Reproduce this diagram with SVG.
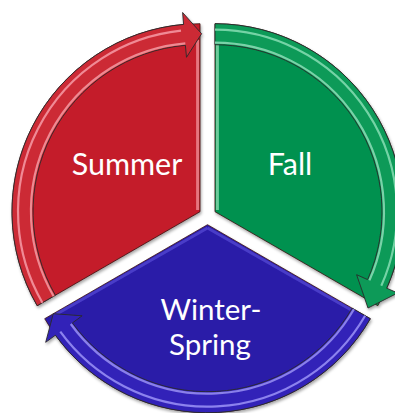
<svg xmlns="http://www.w3.org/2000/svg" width="395" height="413" viewBox="0 0 395 413">
<defs>
<filter id="sh" x="-10%" y="-10%" width="120%" height="120%">
<feDropShadow dx="1" dy="2" stdDeviation="1.8" flood-color="#000" flood-opacity="0.35"/>
</filter>
<style>
.lbl{font-family:Lato,"Open Sans","Liberation Sans",sans-serif;font-size:30.5px;font-weight:400;fill:#fff;text-anchor:middle}
.ws{font-size:29.5px}
.body{stroke:#3a1010;stroke-width:0.8;stroke-linejoin:round}
.band{stroke:#2a2a2a;stroke-width:0.9;stroke-linejoin:miter}
.stripe{fill:none;stroke-width:2.2;stroke-linecap:butt}
.edge{fill:none;stroke-width:3}
</style>
</defs>
<rect width="395" height="413" fill="#fff"/>
<g id="summer">
<g filter="url(#sh)">
<path class="body" d="M200,211.7 L37.2,305.7 A188,188 0 0 1 200,23.7 Z" fill="#C41E2A"/>
<path class="edge" d="M197.6,40 L197.6,210" stroke="#E67680"/>
<path class="band" d="M37.2,305.7 A188,188 0 0 1 183.6,24.4 L182.6,12.5 L201.6,33.7 L186.5,57.3 L185.4,45.3 A167,167 0 0 0 55.4,295.2 Z" fill="#CC2A36"/>
<path class="stripe" d="M42.4,302.7 A182,182 0 0 1 181,30.7" stroke="#F08A95"/>
<path class="stripe" d="M53.6,296.2 A169,169 0 0 1 185.3,43.3" stroke="#EE8A92"/>
</g>
<text class="lbl" x="127" y="175">Summer</text>
</g>
<g id="fall">
<g filter="url(#sh)">
<path class="body" d="M215,211.7 L215,23.7 A188,188 0 0 1 377.8,305.7 Z" fill="#00914F" stroke="#0a3a20"/>
<path class="edge" d="M217.4,40 L217.4,210" stroke="#6CCB9A"/>
<path class="band" d="M215,23.7 A188,188 0 0 1 386.7,288.2 L397.7,293 L368,308 L356.6,274.7 L367.6,279.6 A167,167 0 0 0 215,44.7 Z" fill="#0A9A58"/>
<path class="stripe" d="M215,29.7 A182,182 0 0 1 381.3,285.7" stroke="#74D3A5"/>
<path class="stripe" d="M215,42.7 A169,169 0 0 1 369.4,280.4" stroke="#7AD2A8"/>
</g>
<text class="lbl" x="290" y="175">Fall</text>
</g>
<g id="winter-spring">
<g filter="url(#sh)">
<path class="body" d="M207.5,224.7 L370.3,318.7 A188,188 0 0 1 44.7,318.7 Z" fill="#2A1CA8" stroke="#10083a"/>
<path class="edge" d="M207.5,228 L360,315 M207.5,228 L55,315" stroke="#4A3CC8" stroke-width="2.5"/>
<path class="band" d="M370.3,318.7 A188,188 0 0 1 55.4,335.2 L45.7,342.3 L53.3,313.7 L82.1,315.8 L72.4,322.9 A167,167 0 0 0 352.1,308.2 Z" fill="#3324B8"/>
<path class="stripe" d="M365.1,315.7 A182,182 0 0 1 60.3,331.7" stroke="#8C82EE"/>
<path class="stripe" d="M353.9,309.2 A169,169 0 0 1 70.8,324" stroke="#8A80EA"/>
</g>
<text class="lbl ws"><tspan x="211" y="319.5">Winter-</tspan><tspan x="210" y="355">Spring</tspan></text>
</g>
</svg>
